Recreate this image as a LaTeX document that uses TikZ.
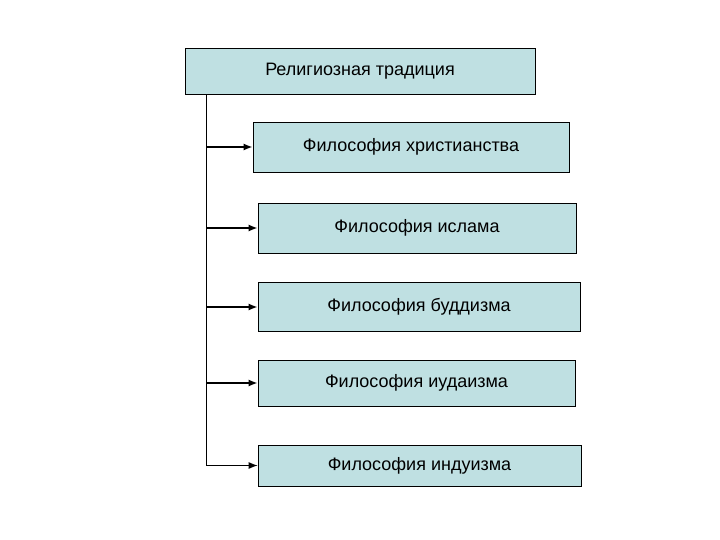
\documentclass[tikz,border=0pt]{standalone}
\usepackage{fontspec}
\setmainfont{Liberation Sans}
\usetikzlibrary{arrows.meta}
\definecolor{boxfill}{RGB}{191,224,226}
\tikzset{
  topbox/.style={draw, line width=0.8pt, fill=boxfill, minimum width=350pt,
                 minimum height=46pt, inner sep=2pt, font=\fontsize{18}{21}\selectfont},
  subbox/.style={draw, line width=0.8pt, fill=boxfill, inner sep=2pt,
                 font=\fontsize{18}{21}\selectfont},
  trunk/.style={line width=0.8pt},
  arr/.style={-{Latex[length=9pt,width=7pt]}, line width=1.5pt},
}
\begin{document}
\begin{tikzpicture}[x=1pt, y=-1pt]
\useasboundingbox (0,0) rectangle (720,540);

% boxes
\node[topbox] (trad) at (360,71) {Религиозная традиция};
\node[subbox, minimum width=316pt, minimum height=50pt] (chr) at (411,147)
  {Философия христианства};
\node[subbox, minimum width=318pt, minimum height=50pt] (isl) at (417,228)
  {Философия ислама};
\node[subbox, minimum width=322pt, minimum height=49pt] (bud) at (419,307)
  {Философия буддизма};
\node[subbox, minimum width=317pt, minimum height=46pt] (iud) at (416.5,383)
  {Философия иудаизма};
\node[subbox, minimum width=323pt, minimum height=41pt] (ind) at (419.5,465.5)
  {Философия индуизма};

% trunk line
\coordinate (top) at (trad.south west -| 206,0);
\coordinate (bot) at (206,0 |- ind.west);
\draw[trunk] (top) -- (bot);

% branches
\foreach \b in {chr,isl,bud,iud}
  \draw[arr] (206,0 |- \b.west) -- (\b.west);
\draw[-{Latex[length=9pt,width=7pt]}, line width=0.9pt] (bot) -- (ind.west);

\end{tikzpicture}
\end{document}
